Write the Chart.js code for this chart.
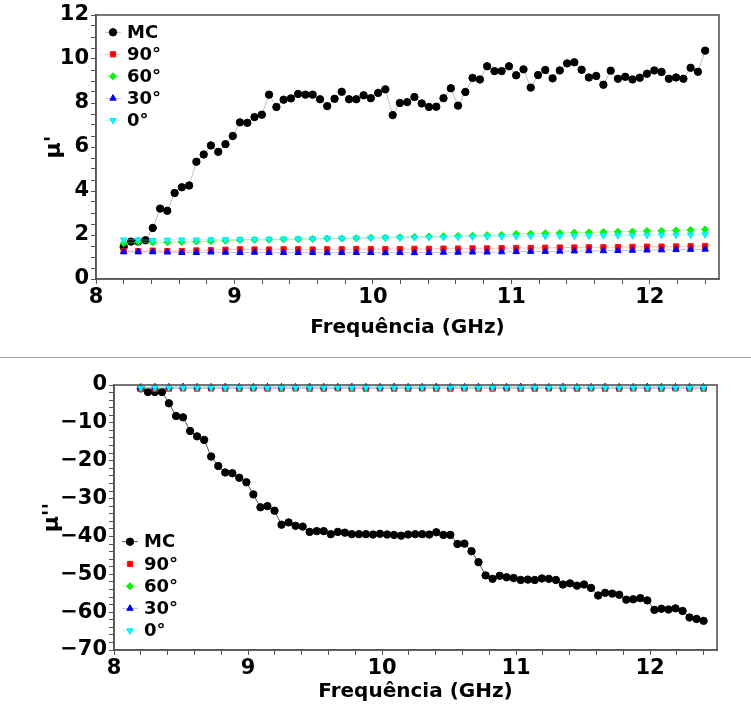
<!DOCTYPE html>
<html><head><meta charset="utf-8">
<script src="https://cdn.jsdelivr.net/npm/chart.js@4/dist/chart.umd.min.js"></script>
<style>
html,body{margin:0;padding:0;background:#fff;width:751px;height:713px;overflow:hidden;}
#c1{position:absolute;left:0;top:0;}
#c2{position:absolute;left:0;top:360px;}
#sep{position:absolute;left:0;top:357px;width:751px;height:1px;background:#a0a0a0;}
</style></head><body>
<canvas id="c1" width="751" height="350"></canvas>
<div id="sep"></div>
<canvas id="c2" width="751" height="353"></canvas>
<script>
// ---------- data ----------
const seriesLabels = ['MC', '90°', '60°', '30°', '0°'];
const xTickLabels = [8, 9, 10, 11, 12];
const yTickLabelsTop = [0, 2, 4, 6, 8, 10, 12];
const yTickLabelsBottom = [0, -10, -20, -30, -40, -50, -60, -70];

const freqMC = [8.200,8.253,8.305,8.358,8.410,8.463,8.515,8.568,8.620,8.673,8.725,8.778,8.830,8.883,8.935,8.988,
  9.040,9.093,9.145,9.198,9.250,9.303,9.355,9.408,9.460,9.513,9.565,9.618,9.670,9.723,9.775,9.828,9.880,9.933,9.985,
  10.038,10.090,10.143,10.195,10.248,10.300,10.353,10.405,10.458,10.510,10.563,10.615,10.668,10.720,10.773,10.825,
  10.878,10.930,10.983,11.035,11.088,11.140,11.193,11.245,11.298,11.350,11.403,11.455,11.508,11.560,11.613,11.665,
  11.718,11.770,11.823,11.875,11.928,11.980,12.033,12.085,12.138,12.190,12.243,12.295,12.348,12.400];
const freqAngle = [8.200,8.305,8.410,8.515,8.620,8.725,8.830,8.935,9.040,9.145,9.250,9.355,9.460,9.565,9.670,9.775,
  9.880,9.985,10.090,10.195,10.300,10.405,10.510,10.615,10.720,10.825,10.930,11.035,11.140,11.245,11.350,11.455,
  11.560,11.665,11.770,11.875,11.980,12.085,12.190,12.295,12.400];

// mu' (top)
const muP_MC = [1.46,1.70,1.70,1.76,2.32,3.20,3.10,3.91,4.17,4.25,5.33,5.66,6.07,5.78,6.13,6.50,7.12,7.10,7.36,7.47,
  8.38,7.82,8.15,8.21,8.41,8.38,8.38,8.17,7.86,8.19,8.51,8.17,8.17,8.35,8.22,8.46,
  8.62,7.45,8.00,8.04,8.27,7.98,7.82,7.83,8.22,8.67,7.88,8.50,9.14,9.07,9.67,9.45,9.45,9.67,9.26,9.53,8.70,9.27,
  9.50,9.12,9.48,9.80,9.85,9.51,9.16,9.23,8.83,9.47,9.10,9.19,9.07,9.15,9.33,9.48,9.41,9.10,9.16,9.10,9.60,9.42,10.38];
const muP_90 = [1.27,1.27,1.29,1.27,1.27,1.30,1.31,1.33,1.35,1.34,1.34,1.35,1.35,1.34,1.35,1.35,1.36,1.36,1.36,1.36,
  1.37,1.37,1.38,1.38,1.39,1.39,1.40,1.41,1.41,1.42,1.43,1.43,1.44,1.44,1.45,1.46,1.47,1.47,1.48,1.49,1.50];
const muP_60 = [1.62,1.68,1.66,1.67,1.68,1.70,1.72,1.74,1.77,1.78,1.78,1.80,1.81,1.82,1.84,1.84,1.85,1.88,1.88,1.90,
  1.91,1.93,1.94,1.96,1.97,1.99,2.00,2.05,2.06,2.08,2.09,2.11,2.12,2.14,2.15,2.16,2.18,2.19,2.21,2.23,2.25];
const muP_30 = [1.23,1.23,1.23,1.22,1.20,1.20,1.22,1.21,1.20,1.21,1.20,1.20,1.20,1.20,1.19,1.20,1.20,1.20,1.19,1.20,
  1.19,1.20,1.21,1.21,1.22,1.22,1.23,1.24,1.25,1.25,1.26,1.27,1.28,1.28,1.29,1.30,1.31,1.32,1.33,1.34,1.35];
const muP_0 = [1.78,1.78,1.76,1.77,1.78,1.78,1.79,1.79,1.80,1.80,1.81,1.82,1.83,1.83,1.85,1.85,1.86,1.87,1.88,1.88,
  1.89,1.90,1.90,1.91,1.92,1.93,1.93,1.94,1.95,1.95,1.96,1.96,1.97,1.98,1.98,1.98,1.99,2.00,2.00,2.01,2.02];

// mu'' (bottom)
const muPP_MC = [-0.9,-1.85,-1.85,-1.85,-4.84,-8.19,-8.54,-12.15,-13.56,-14.5,-18.9,-21.4,-23.1,-23.3,-24.5,-25.7,
  -28.9,-32.3,-32.0,-33.2,-36.9,-36.3,-37.2,-37.4,-38.8,-38.6,-38.6,-39.4,-38.8,-39.0,-39.4,-39.4,-39.4,-39.5,
  -39.3,-39.5,-39.6,-39.8,-39.5,-39.4,-39.4,-39.5,-38.9,-39.6,-39.6,-42.0,-41.9,-43.9,-46.8,-50.3,-51.2,-50.4,
  -50.8,-51.0,-51.5,-51.4,-51.5,-51.1,-51.2,-51.5,-52.7,-52.4,-53.0,-52.7,-53.6,-55.6,-54.9,-55.1,-55.4,-56.7,
  -56.6,-56.3,-56.9,-59.4,-59.1,-59.3,-59.0,-59.7,-61.4,-61.8,-62.3];
const muPP_90 = [-1.0,-0.95,-0.95,-0.9,-0.95,-0.9,-0.95,-0.95,-0.9,-0.95,-0.95,-0.9,-0.95,-0.95,-0.9,-0.95,-0.95,
  -0.9,-0.95,-0.95,-0.9,-0.95,-0.95,-0.9,-0.95,-0.95,-0.9,-0.95,-0.95,-0.9,-0.95,-0.95,-0.9,-0.95,-0.95,-0.9,
  -0.95,-0.95,-0.9,-0.95,-0.95];
const muPP_60 = [-0.8,-0.75,-0.75,-0.7,-0.75,-0.75,-0.7,-0.75,-0.75,-0.7,-0.75,-0.75,-0.7,-0.75,-0.75,-0.7,-0.75,
  -0.75,-0.7,-0.75,-0.75,-0.7,-0.75,-0.75,-0.7,-0.75,-0.75,-0.7,-0.75,-0.75,-0.7,-0.75,-0.75,-0.7,-0.75,-0.75,
  -0.7,-0.75,-0.75,-0.7,-0.75];
const muPP_30 = [-0.6,-0.55,-0.55,-0.5,-0.55,-0.55,-0.5,-0.55,-0.55,-0.5,-0.55,-0.55,-0.5,-0.55,-0.55,-0.5,-0.55,
  -0.55,-0.5,-0.55,-0.55,-0.5,-0.55,-0.55,-0.5,-0.55,-0.55,-0.5,-0.55,-0.55,-0.5,-0.55,-0.55,-0.5,-0.55,-0.55,
  -0.5,-0.55,-0.55,-0.5,-0.55];
const muPP_0 = [-0.65,-0.6,-0.6,-0.65,-0.6,-0.6,-0.65,-0.6,-0.6,-0.65,-0.6,-0.6,-0.65,-0.6,-0.6,-0.65,-0.6,-0.6,
  -0.65,-0.6,-0.6,-0.65,-0.6,-0.6,-0.65,-0.6,-0.6,-0.65,-0.6,-0.6,-0.65,-0.6,-0.6,-0.65,-0.6,-0.6,-0.65,-0.6,
  -0.6,-0.65,-0.6];

// ---------- chart setup ----------
const FONT = "'DejaVu Sans', Verdana, sans-serif";
Chart.defaults.font.family = FONT;
Chart.defaults.font.weight = 'bold';
Chart.defaults.color = '#000';
const AXIS = '#555';

function pts(xs, ys) { return xs.map((x, i) => ({ x: x, y: ys[i] })); }

function makeDatasets(mc, a90, a60, a30, a0, mcLine) {
  return [
    { label: seriesLabels[0], data: pts(freqMC, mc), borderColor: mcLine, borderWidth: 1,
      pointStyle: 'circle', pointRadius: 3.7, pointBackgroundColor: '#000', pointBorderColor: '#000', order: 10 },
    { label: seriesLabels[1], data: pts(freqAngle, a90), borderColor: 'rgba(255,120,120,0.45)', borderWidth: 1,
      pointStyle: 'rect', pointRadius: 3.7, pointBackgroundColor: '#ff0000', pointBorderColor: '#ff1010', order: 4 },
    { label: seriesLabels[2], data: pts(freqAngle, a60), borderColor: 'rgba(90,255,90,0.5)', borderWidth: 1,
      pointStyle: 'rectRot', pointRadius: 3.5, pointBackgroundColor: '#00ff00', pointBorderColor: '#10e010', order: 3 },
    { label: seriesLabels[3], data: pts(freqAngle, a30), borderColor: 'rgba(110,110,255,0.45)', borderWidth: 1,
      pointStyle: 'triangle', pointRadius: 3.7, pointBackgroundColor: '#0000ff', pointBorderColor: '#0000ee', order: 2 },
    { label: seriesLabels[4], data: pts(freqAngle, a0), borderColor: 'rgba(90,240,255,0.5)', borderWidth: 1,
      pointStyle: 'triangle', pointRotation: 180, pointRadius: 3.7, pointBackgroundColor: '#00ffff', pointBorderColor: '#00e8f0', order: 1 }
  ].map(d => Object.assign(d, { showLine: true, fill: false, tension: 0, clip: 6, pointBorderWidth: 1 }));
}

const legendPlugin = {
  id: 'inLegend',
  afterDraw(chart, args, o) {
    const ctx = chart.ctx, ca = chart.chartArea;
    ctx.save();
    chart.data.datasets.forEach((ds, i) => {
      const y = ca.top + o.y0 + i * o.rowH;
      ctx.strokeStyle = ds.borderColor; ctx.lineWidth = 1;
      ctx.beginPath(); ctx.moveTo(ca.left + o.x0, y); ctx.lineTo(ca.left + o.x1, y); ctx.stroke();
      ctx.fillStyle = ds.pointBackgroundColor; ctx.strokeStyle = ds.pointBorderColor;
      Chart.helpers.drawPoint(ctx, { pointStyle: ds.pointStyle, rotation: ds.pointRotation || 0,
        radius: ds.pointRadius, borderWidth: 1 }, ca.left + (o.x0 + o.x1) / 2, y);
      ctx.fillStyle = '#000'; ctx.font = 'bold ' + o.size + 'px ' + FONT;
      ctx.textBaseline = 'middle'; ctx.textAlign = 'left';
      ctx.fillText(ds.label, ca.left + o.tx, y + 1);
    });
    ctx.restore();
  }
};
const framePlugin = {
  id: 'frame',
  afterDraw(chart) {
    const ctx = chart.ctx, ca = chart.chartArea;
    ctx.save(); ctx.strokeStyle = AXIS; ctx.lineWidth = 1.6;
    ctx.strokeRect(ca.left, ca.top, ca.right - ca.left, ca.bottom - ca.top);
    ctx.restore();
  }
};

function stepTicks(min, max, step) {
  const out = [];
  for (let v = min; v <= max + 1e-9; v += step) out.push({ value: Math.round(v * 1000) / 1000 });
  return out;
}

function makeChart(id, datasets, cfg) {
  return new Chart(document.getElementById(id), {
    type: 'line',
    data: { datasets: datasets },
    plugins: [legendPlugin, framePlugin],
    options: {
      responsive: false, animation: false, devicePixelRatio: 1,
      layout: { padding: { top: cfg.top, right: cfg.right, left: 0, bottom: 0 } },
      plugins: { legend: { display: false }, tooltip: { enabled: false }, inLegend: cfg.legend },
      scales: {
        x: {
          type: 'linear', min: 8, max: 12.5,
          afterBuildTicks: s => { s.ticks = stepTicks(8, 12.4, 0.2); },
          afterFit: s => { s.height = cfg.xh; },
          ticks: { autoSkip: false, maxRotation: 0, padding: 1, font: { size: 21, weight: 'bold' }, color: '#000',
            callback: v => xTickLabels.some(t => Math.abs(t - v) < 1e-6) ? String(Math.round(v)) : '' },
          grid: { drawOnChartArea: false, drawTicks: true, tickLength: 5, color: AXIS, tickWidth: 1 },
          border: { display: true, color: AXIS, width: 1.6 },
          title: { display: true, text: 'Frequência (GHz)', font: { size: 20, weight: 'bold' }, color: '#000',
            padding: { top: 0, bottom: cfg.xtb } }
        },
        y: {
          type: 'linear', min: cfg.ymin, max: cfg.ymax,
          afterBuildTicks: s => { s.ticks = stepTicks(cfg.ymin, cfg.ymax, cfg.ystep); },
          afterFit: s => { s.width = cfg.yw; },
          ticks: { autoSkip: false, padding: 2, font: { size: 21, weight: 'bold' }, color: '#000',
            callback: v => cfg.ylabels.some(t => Math.abs(t - v) < 1e-6)
              ? (v < 0 ? '\u2212' + Math.abs(Math.round(v)) : String(Math.round(v))) : '' },
          grid: { drawOnChartArea: false, drawTicks: true, tickLength: 5, color: AXIS, tickWidth: 1 },
          border: { display: true, color: AXIS, width: 1.6 },
          title: { display: true, text: cfg.ytitle, font: { size: 22, weight: 'bold' }, color: '#000',
            padding: { top: cfg.ytp, bottom: 0 } }
        }
      }
    }
  });
}

makeChart('c1', makeDatasets(muP_MC, muP_90, muP_60, muP_30, muP_0, '#bdbdbd'), {
  top: 15, right: 32, xh: 71, yw: 96, xtb: 10, ytp: 41,
  ymin: 0, ymax: 12, ystep: 0.5, ylabels: yTickLabelsTop, ytitle: "μ'",
  legend: { x0: 9, x1: 25, tx: 31, y0: 17.3, rowH: 22, size: 18 }
});
makeChart('c2', makeDatasets(muPP_MC, muPP_90, muPP_60, muPP_30, muPP_0, '#555'), {
  top: 25, right: 34, xh: 63, yw: 114, xtb: 9, ytp: 39,
  ymin: -70, ymax: 0, ystep: 2, ylabels: yTickLabelsBottom, ytitle: "μ''",
  legend: { x0: 8, x1: 24, tx: 30, y0: 156.7, rowH: 22.25, size: 18 }
});
</script>
</body></html>
